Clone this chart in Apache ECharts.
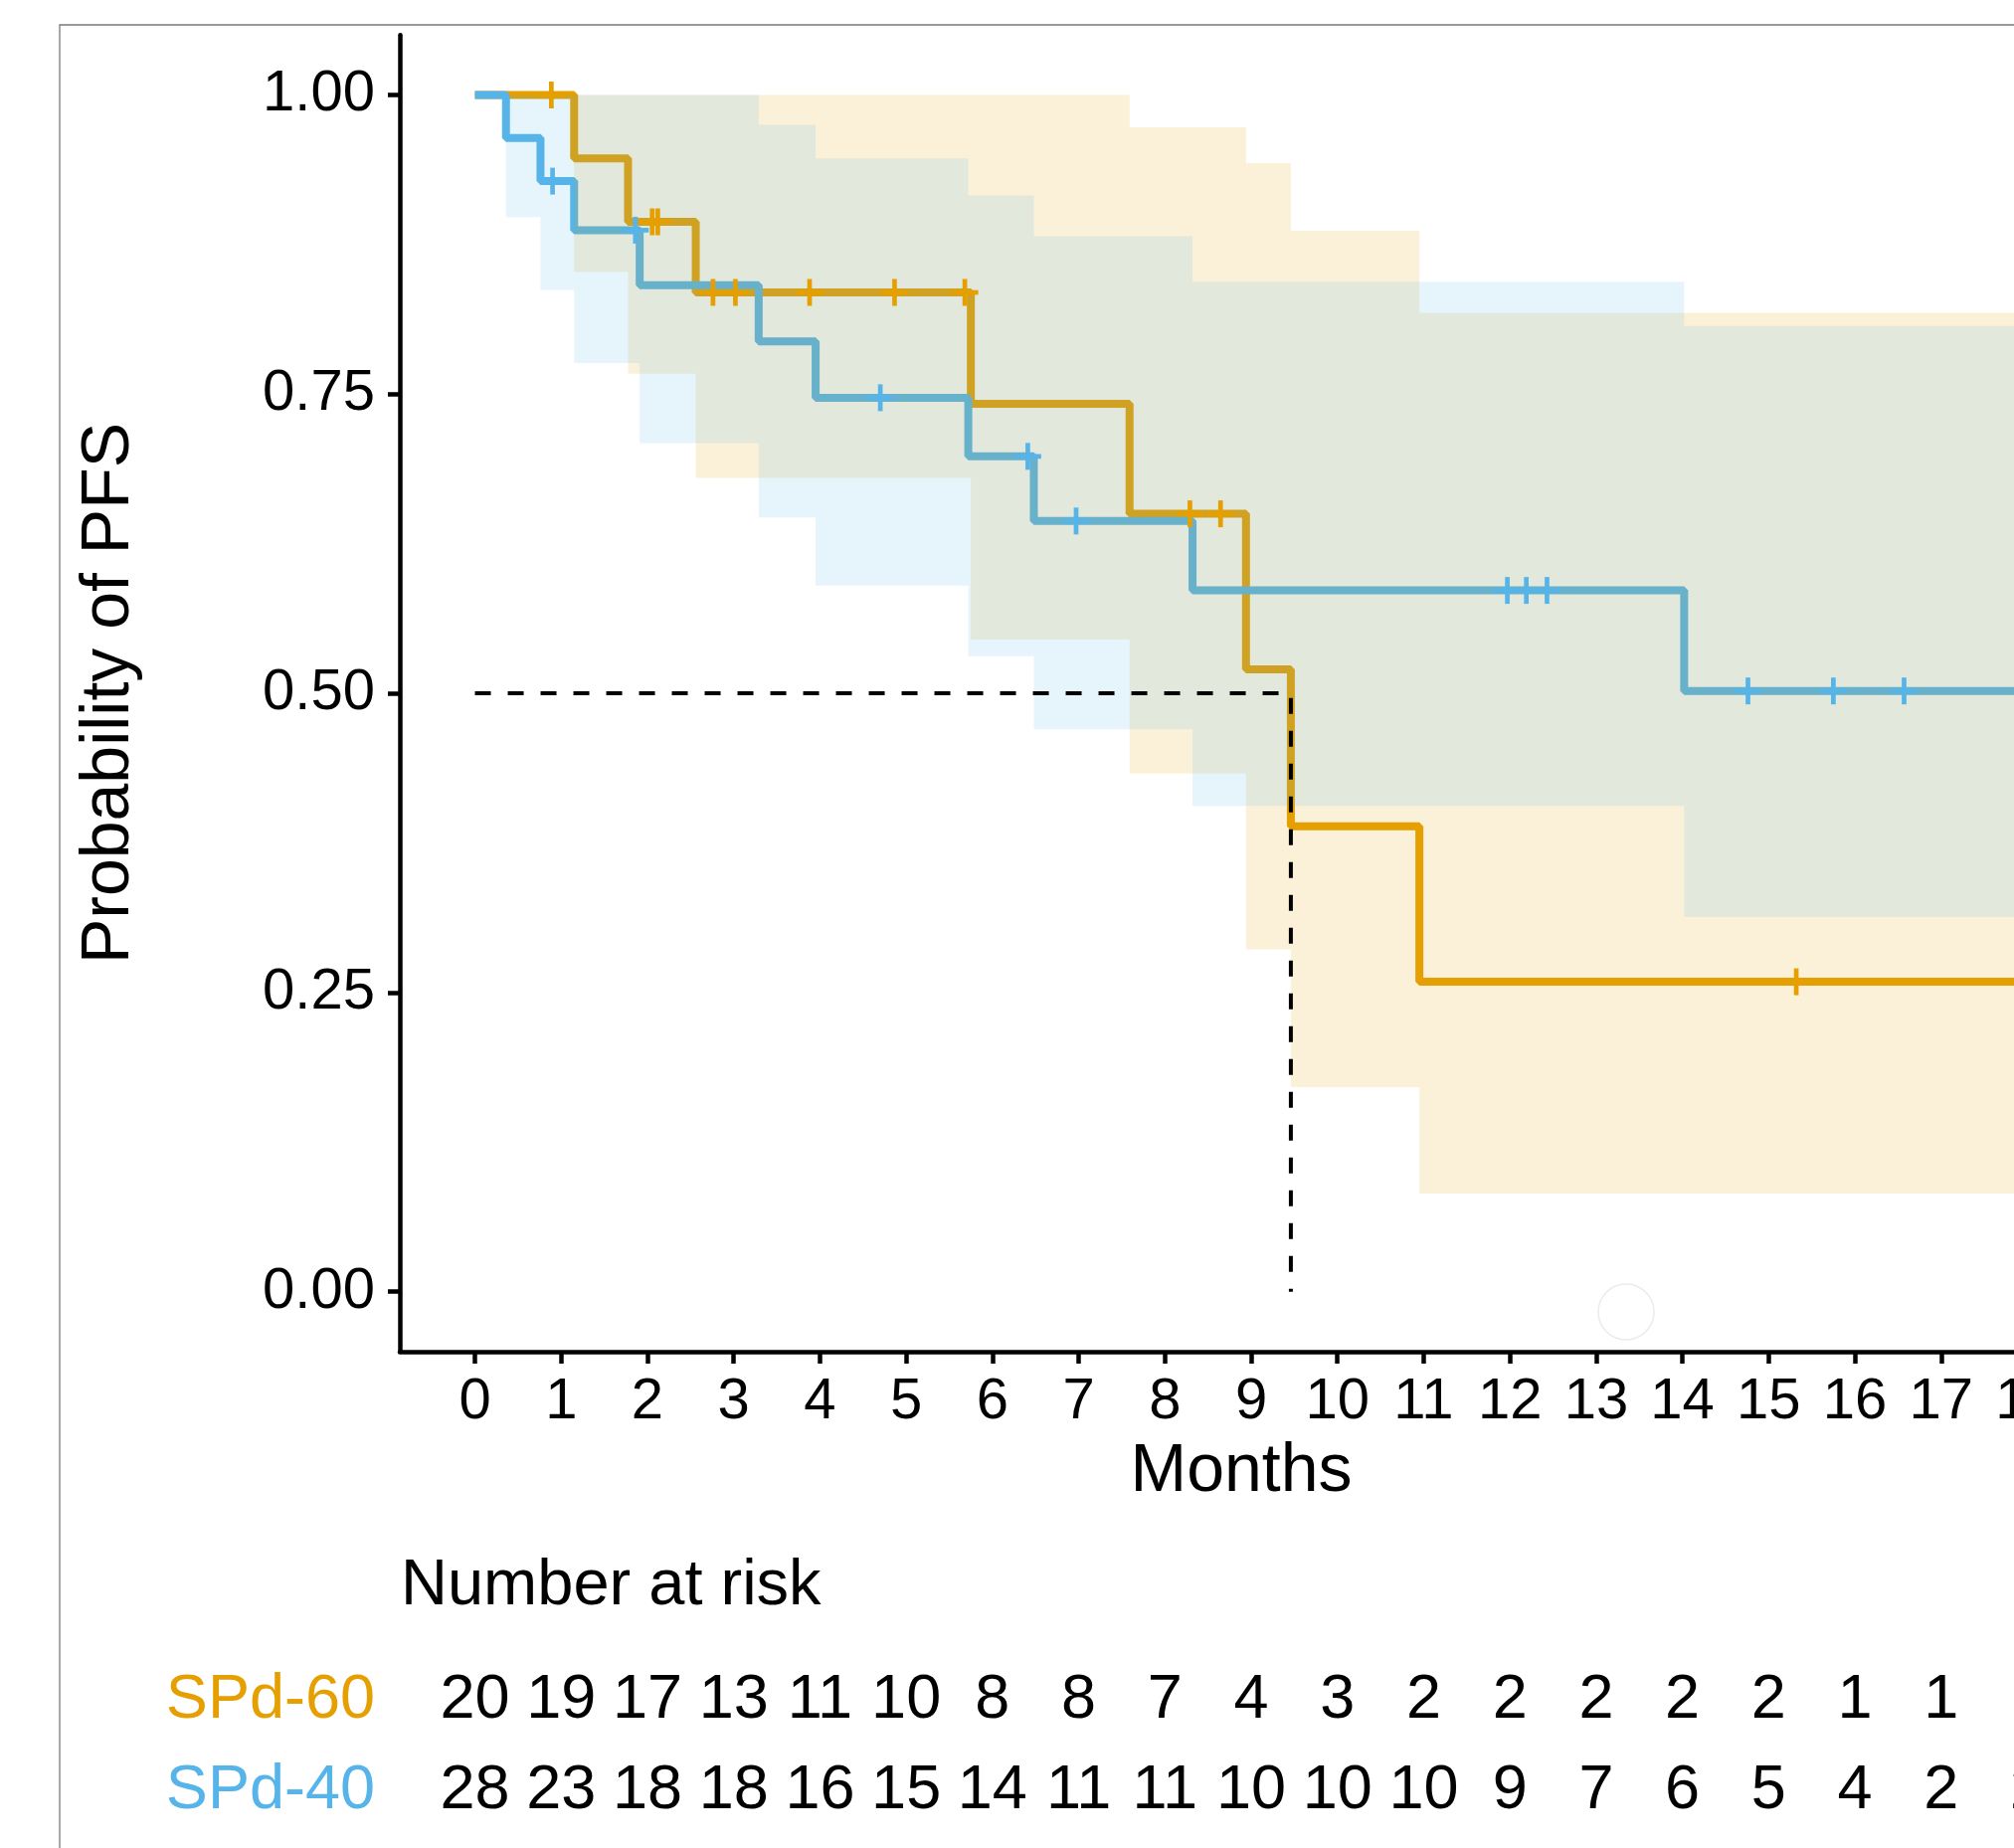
<!DOCTYPE html>
<html>
<head>
<meta charset="utf-8">
<script src="https://cdn.jsdelivr.net/npm/echarts@6/dist/echarts.min.js"></script>
<style>
html,body{margin:0;padding:0;background:#fff;overflow:hidden}
#c{width:2025px;height:1858px}
</style>
</head>
<body>
<div id="c"></div>
<script>
// ---------- data ----------
const groups = ['SPd-60', 'SPd-40'];
const groupColors = ['#E69F00', '#56B4E9'];
const xTicks = [0,1,2,3,4,5,6,7,8,9,10,11,12,13,14,15,16,17,18];
const yTicks = [0, 0.25, 0.5, 0.75, 1];

// Kaplan-Meier step curves (time of change, survival after change)
const kmTimes60 = [0, 1.15, 1.775, 2.56, 5.75, 7.59, 8.94, 9.46, 10.95, 18.5];
const kmSurv60  = [1, 0.947, 0.894, 0.835, 0.742, 0.650, 0.520, 0.389, 0.259, 0.259];
const kmTimes40 = [0, 0.36, 0.76, 1.15, 1.91, 3.29, 3.95, 5.72, 6.48, 8.32, 14.02, 18.5];
const kmSurv40  = [1, 0.964, 0.928, 0.887, 0.841, 0.794, 0.747, 0.698, 0.644, 0.586, 0.502, 0.502];

// confidence bands (segment start times, lower, upper)
const ciTimes60 = [1.15, 1.775, 2.56, 5.75, 7.59, 8.94, 9.46, 10.95];
const ciLower60 = [0.852, 0.767, 0.680, 0.545, 0.433, 0.286, 0.171, 0.082];
const ciUpper60 = [1, 1, 1, 1, 0.973, 0.943, 0.8865, 0.818];
const ciTimes40 = [0.36, 0.76, 1.15, 1.91, 3.29, 3.95, 5.72, 6.48, 8.32, 14.02];
const ciLower40 = [0.898, 0.837, 0.776, 0.709, 0.647, 0.590, 0.531, 0.470, 0.406, 0.313];
const ciUpper40 = [1, 1, 1, 1, 0.975, 0.947, 0.916, 0.882, 0.844, 0.807];
const ciEnd = 18.5;

// censoring marks
const censTimes60 = [0.886, 2.055, 2.12, 2.76, 3.02, 3.88, 4.865, 5.68, 8.29, 8.645, 15.32];
const censSurv60  = [1, 0.894, 0.894, 0.835, 0.835, 0.835, 0.835, 0.835, 0.650, 0.650, 0.259];
const censTimes40 = [0.90, 1.86, 4.70, 6.41, 6.97, 11.97, 12.19, 12.43, 14.76, 15.75, 16.57];
const censSurv40  = [0.928, 0.887, 0.747, 0.698, 0.644, 0.586, 0.586, 0.586, 0.502, 0.502, 0.502];

// median survival reference
const medianLevel = 0.5;
const medianTime = 9.46;

// number at risk
const risk60 = [20,19,17,13,11,10,8,8,7,4,3,2,2,2,2,2,1,1,1];
const risk40 = [28,23,18,18,16,15,14,11,11,10,10,10,9,7,6,5,4,2,2];

// ---------- chart ----------
const FONT = '"Liberation Sans", Arial, sans-serif';
const X_MIN = -0.871, X_MAX = 18.64;
const chart = echarts.init(document.getElementById('c'), null, {renderer: 'canvas'});

const zip = (a, b) => a.map((v, i) => [v, b[i]]);

function bandSeries(times, lower, upper, color, z) {
  return {
    type: 'custom', xAxisIndex: 0, yAxisIndex: 0, z: z, silent: true,
    data: [[times[0], upper[0]]],
    renderItem: function (params, api) {
      const pts = [];
      for (let i = 0; i < times.length; i++) {
        const t1 = i < times.length - 1 ? times[i + 1] : ciEnd;
        pts.push(api.coord([times[i], upper[i]]));
        pts.push(api.coord([t1, upper[i]]));
      }
      for (let i = times.length - 1; i >= 0; i--) {
        const t1 = i < times.length - 1 ? times[i + 1] : ciEnd;
        pts.push(api.coord([t1, lower[i]]));
        pts.push(api.coord([times[i], lower[i]]));
      }
      return {type: 'polygon', shape: {points: pts}, style: {fill: color}};
    }
  };
}

function censorSeries(times, surv, color) {
  return {
    type: 'custom', xAxisIndex: 0, yAxisIndex: 0, z: 4, silent: true,
    data: zip(times, surv),
    renderItem: function (params, api) {
      const p = api.coord([api.value(0), api.value(1)]);
      const h = 13.5;
      return {
        type: 'group',
        children: [
          {type: 'line', shape: {x1: p[0] - h, y1: p[1], x2: p[0] + h, y2: p[1]},
            style: {stroke: color, lineWidth: 4.7, lineCap: 'butt'}},
          {type: 'line', shape: {x1: p[0], y1: p[1] - h, x2: p[0], y2: p[1] + h},
            style: {stroke: color, lineWidth: 4.7, lineCap: 'butt'}}
        ]
      };
    }
  };
}

const riskSeries = [risk60, risk40].map((arr, g) => ({
  type: 'custom', xAxisIndex: 1, yAxisIndex: 1, z: 5, silent: true,
  data: xTicks.map((m, i) => [m, g, arr[i]]),
  renderItem: function (params, api) {
    const p = api.coord([api.value(0), api.value(1)]);
    return {
      type: 'text', x: p[0], y: p[1],
      style: {text: String(api.value(2)), font: '63px ' + FONT, fill: '#000', align: 'center', verticalAlign: 'middle'}
    };
  }
}));

const option = {
  animation: false,
  backgroundColor: '#fff',
  grid: [
    {left: 402, right: -69, top: 35.3, bottom: 499.1, containLabel: false, outerBoundsMode: 'none'},
    {left: 402, right: -69, top: 1664, height: 182, containLabel: false, outerBoundsMode: 'none'}
  ],
  xAxis: [
    {
      type: 'value', gridIndex: 0, min: X_MIN, max: X_MAX,
      axisLine: {show: true, onZero: false, lineStyle: {color: '#000', width: 4.5}},
      axisTick: {show: true, length: 12, lineStyle: {color: '#000', width: 4.5}, customValues: xTicks},
      axisLabel: {show: true, customValues: xTicks, fontSize: 58, fontFamily: FONT, color: '#000', margin: 22,
        hideOverlap: false, showMaxLabel: true, showMinLabel: true},
      splitLine: {show: false}
    },
    {type: 'value', gridIndex: 1, min: X_MIN, max: X_MAX, show: false}
  ],
  yAxis: [
    {
      type: 'value', gridIndex: 0, min: -0.05, max: 1.05,
      axisLine: {show: true, onZero: false, lineStyle: {color: '#000', width: 4.5}},
      axisTick: {show: true, length: 12, lineStyle: {color: '#000', width: 4.5}, customValues: yTicks},
      axisLabel: {show: true, customValues: yTicks, fontSize: 58, fontFamily: FONT, color: '#000', margin: 25,
        formatter: v => Number(v).toFixed(2)},
      splitLine: {show: false}
    },
    {
      type: 'category', gridIndex: 1, data: groups, inverse: true,
      axisLine: {show: false}, axisTick: {show: false}, splitLine: {show: false},
      axisLabel: {
        margin: 25, fontSize: 63, fontFamily: FONT,
        formatter: v => '{g' + groups.indexOf(v) + '|' + v + '}',
        rich: {
          g0: {color: groupColors[0], fontSize: 63, fontFamily: FONT},
          g1: {color: groupColors[1], fontSize: 63, fontFamily: FONT}
        }
      }
    }
  ],
  series: [
    {
      type: 'line', step: 'end', z: 1, showSymbol: false, silent: true,
      data: zip(kmTimes60, kmSurv60), lineStyle: {color: groupColors[0], width: 8}
    },
    {
      type: 'line', step: 'end', z: 1, showSymbol: false, silent: true,
      data: zip(kmTimes40, kmSurv40), lineStyle: {color: groupColors[1], width: 8}
    },
    bandSeries(ciTimes60, ciLower60, ciUpper60, 'rgba(230,159,0,0.15)', 2),
    bandSeries(ciTimes40, ciLower40, ciUpper40, 'rgba(86,180,233,0.15)', 3),
    censorSeries(censTimes60, censSurv60, groupColors[0]),
    censorSeries(censTimes40, censSurv40, groupColors[1]),
    {
      type: 'line', z: 6, showSymbol: false, silent: true,
      data: [[0, medianLevel], [medianTime, medianLevel], [medianTime, 0]],
      lineStyle: {color: '#000', width: 4, type: [16, 17]}
    }
  ].concat(riskSeries),
  graphic: [
    {type: 'rect', silent: true, z: -10, shape: {x: 60, y: 25, width: 4000, height: 4000},
      style: {fill: 'none', stroke: '#7a7a7a', lineWidth: 1.3}},
    {type: 'circle', silent: true, shape: {cx: 1635, cy: 1319, r: 28},
      style: {fill: 'none', stroke: '#ebebeb', lineWidth: 1.5}},
    {type: 'text', silent: true, x: 110, y: 697, rotation: Math.PI / 2,
      style: {text: 'Probability of PFS', font: '68px ' + FONT, fill: '#000', align: 'center', verticalAlign: 'middle'}},
    {type: 'text', silent: true, x: 1248, y: 1480,
      style: {text: 'Months', font: '68px ' + FONT, fill: '#000', align: 'center', verticalAlign: 'middle'}},
    {type: 'text', silent: true, x: 403, y: 1595,
      style: {text: 'Number at risk', font: '65px ' + FONT, fill: '#000', align: 'left', verticalAlign: 'middle'}}
  ]
};
chart.setOption(option);
</script>
</body>
</html>
